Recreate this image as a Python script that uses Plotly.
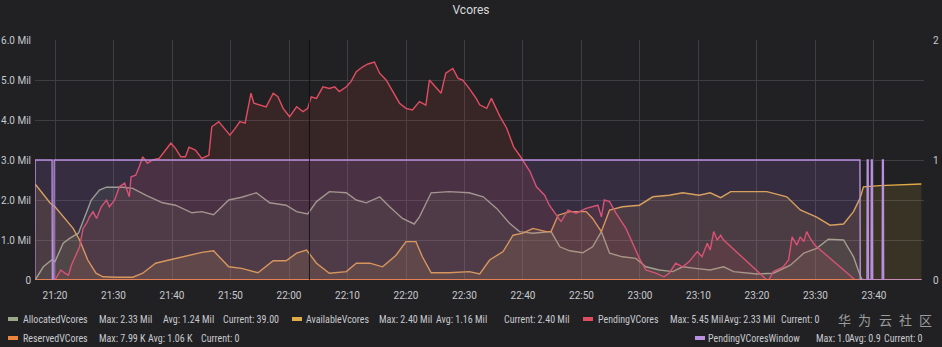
import plotly.graph_objects as go
import pandas as pd

# ---------------- data (minutes after 21:00, values in millions / window flag) -------------
alloc_min = [16.6, 18.0, 19.4, 20.0, 21.4, 22.5, 24.0, 25.1, 26.2, 27.6, 28.8, 31.6, 33.3, 35.5,
             38.4, 40.6, 43.4, 45.1, 47.1, 49.7, 51.9, 54.4, 56.7, 59.5, 61.3, 63.2, 64.7, 66.9,
             69.8, 71.5, 73.2, 75.5, 77.2, 79.4, 81.4, 82.3, 84.3, 87.4, 90.8, 93.2, 95.5, 97.7,
             99.4, 101.7, 104.8, 106.3, 108.0, 110.2, 111.9, 113.4, 114.8, 117.0, 119.3, 121.0,
             123.3, 125.6, 127.3, 129.5, 132.0, 134.3, 136.0, 140.0, 142.8, 145.7, 148.0, 150.2,
             152.2, 154.8, 156.5, 157.3, 157.9, 158.5, 168.1]
alloc_val = [0.0, 0.33, 0.5, 0.46, 0.92, 1.04, 1.17, 1.58, 2.0, 2.25, 2.32, 2.32, 2.29, 2.12,
             1.93, 1.87, 1.68, 1.71, 1.63, 2.0, 2.07, 2.18, 1.93, 1.87, 1.71, 1.65, 1.96, 2.21,
             2.18, 2.0, 1.93, 2.08, 1.83, 1.54, 1.4, 1.58, 2.18, 2.21, 2.18, 2.08, 1.79, 1.42,
             1.21, 1.17, 1.21, 0.83, 0.73, 0.68, 0.83, 1.21, 0.67, 0.58, 0.54, 0.33,
             0.25, 0.21, 0.33, 0.29, 0.25, 0.33, 0.21, 0.15, 0.17, 0.37, 0.67, 0.79,
             1.02, 1.0, 0.58, 0.25, 0.02, 0.0, 0.0]

avail_min = [16.6, 18.0, 19.2, 20.0, 22.3, 23.1, 24.2, 25.6, 27.0, 28.2, 30.5, 33.3, 35.0, 37.2,
             39.5, 42.9, 45.1, 47.1, 49.7, 51.9, 54.7, 57.3, 59.5, 61.3, 63.0, 64.7, 66.9, 69.8,
             71.5, 73.8, 76.0, 78.3, 80.0, 81.7, 82.8, 84.3, 87.4, 90.8, 92.6, 94.3, 96.6, 98.3,
             100.0, 101.7, 104.0, 104.8, 106.0, 108.0, 110.8, 111.9, 113.4, 114.8, 117.0, 119.9,
             122.2, 125.0, 127.3, 130.1, 132.0, 133.8, 135.5, 141.7, 145.1, 147.4, 150.2, 152.5,
             154.8, 156.5, 157.6, 158.2, 161.0, 168.1]
avail_val = [2.4, 2.15, 1.92, 1.83, 1.42, 1.29, 1.0, 0.5, 0.17, 0.08, 0.07, 0.07, 0.17, 0.42,
             0.5, 0.62, 0.69, 0.73, 0.33, 0.29, 0.18, 0.48, 0.48, 0.67, 0.75, 0.42, 0.17, 0.21,
             0.42, 0.42, 0.33, 0.62, 0.96, 0.96, 0.58, 0.18, 0.18, 0.21, 0.15, 0.5, 0.71, 1.12,
             1.17, 1.29, 1.21, 1.21, 1.62, 1.71, 1.71, 1.54, 1.21, 1.75, 1.83, 1.87,
             2.08, 2.12, 2.18, 2.12, 2.18, 2.06, 2.21, 2.21, 2.08, 1.75, 1.57, 1.37,
             1.4, 1.71, 2.04, 2.33, 2.36, 2.4]

pend_min = [16.6, 20.0, 20.3, 21.0, 21.7, 22.3, 22.8, 23.7, 24.2, 24.8, 25.4, 25.9, 26.5, 27.1,
            27.9, 28.8, 29.3, 30.2, 31.0, 31.9, 32.7, 33.0, 33.8, 34.4, 35.0, 35.8, 36.7, 37.8,
            38.9, 39.8, 40.6, 41.5, 42.3, 42.9, 44.0, 45.1, 46.3, 46.8, 48.0, 49.1, 49.9, 50.8,
            51.6, 52.5, 53.1, 53.5, 54.0, 55.0, 56.1, 57.3, 58.1, 59.0, 60.1, 61.3, 62.4, 63.2,
            63.8, 64.7, 65.8, 66.9, 67.8, 68.6, 69.8, 70.6, 71.5, 72.6, 73.5, 74.6, 75.5, 76.6,
            77.7, 78.9, 80.0, 81.1, 82.3, 83.4, 84.0, 85.1, 86.0, 86.8, 88.0, 88.9, 89.7, 90.8,
            92.0, 92.6, 93.8, 94.6, 96.1, 97.2, 98.4, 99.5, 101.2, 102.3, 103.7, 104.5, 105.7,
            106.5, 107.7, 109.1, 110.8, 111.9, 112.8, 113.4, 113.9, 114.8, 115.9, 117.6, 118.8,
            119.9, 121.0, 122.7, 124.1, 125.0, 126.1, 127.3, 128.4, 129.8, 130.6, 131.5, 132.0,
            132.6, 133.2, 133.8, 134.3, 141.7, 142.0, 142.8, 144.5, 145.4, 146.0, 146.8, 147.4,
            148.0, 148.5, 149.1, 149.9, 156.8, 168.1]
pend_val = [0.0, 0.0, 0.08, 0.25, 0.17, 0.12, 0.37, 0.67, 0.83, 1.29, 1.42, 1.58, 1.71, 1.54,
            1.83, 2.0, 1.83, 2.0, 2.33, 2.42, 2.08, 2.58, 2.62, 2.83, 3.08, 2.92, 3.0, 3.04,
            3.25, 3.42, 3.29, 3.08, 3.08, 3.32, 3.25, 3.04, 3.12, 3.83, 3.96, 3.75, 3.62, 3.79,
            3.96, 3.92, 4.42, 4.67, 4.42, 4.37, 4.33, 4.67, 4.58, 4.29, 4.08, 4.33, 4.21, 4.29,
            4.58, 4.54, 4.83, 4.79, 4.83, 4.71, 4.83, 4.96, 5.21, 5.33, 5.4, 5.45, 5.17, 5.0,
            4.71, 4.42, 4.29, 4.25, 4.46, 4.37, 5.0, 4.83, 4.67, 5.17, 5.29, 5.04, 5.0, 4.79,
            4.54, 4.38, 4.29, 4.54, 4.08, 3.8, 3.33, 3.1, 2.71, 2.33, 2.12, 1.87, 1.62,
            1.46, 1.75, 1.67, 1.79, 1.83, 1.87, 1.58, 2.0, 1.96, 1.67, 1.29, 0.92,
            0.54, 0.25, 0.17, 0.08, 0.17, 0.42, 0.33, 0.46, 0.71, 0.58, 0.92, 0.75,
            1.21, 1.0, 1.12, 1.0, 0.0, 0.0, 0.21, 0.33, 0.5, 1.08, 0.87, 1.08,
            0.96, 1.21, 1.04, 0.87, 0.0, 0.0]

resv_min = [16.6, 40.0, 60.0, 80.0, 100.0, 120.0, 168.1]
resv_val = [0.0, 0.004, 0.008, 0.002, 0.001, 0.0, 0.0]

win_min = [16.55, 16.6, 19.5, 19.55, 19.8, 19.85, 157.6, 157.65, 158.8, 158.85, 159.0, 159.05,
           159.5, 159.55, 159.7, 159.75, 161.4, 161.45, 161.6, 161.65, 168.1]
win_val = [0, 1, 1, 0, 0, 1, 1, 0, 0, 1, 1, 0,
           0, 1, 1, 0, 0, 1, 1, 0, 0]

y_tick_vals = [0, 1, 2, 3, 4, 5, 6]
y_tick_text = ["0", "1.0 Mil", "2.0 Mil", "3.0 Mil", "4.0 Mil", "5.0 Mil", "6.0 Mil"]
y2_tick_vals = [0, 1, 2]
y2_tick_text = ["0", "1", "2"]

legend_names = ["AllocatedVcores", "AvailableVcores", "PendingVCores", "ReservedVCores",
                "PendingVCoresWindow"]
legend_max = ["2.33 Mil", "2.40 Mil", "5.45 Mil", "7.99 K", "1.0"]
legend_avg = ["1.24 Mil", "1.16 Mil", "2.33 Mil", "1.06 K", "0.9"]
legend_cur = ["39.00", "2.40 Mil", "0", "0", "0"]
title_text = "Vcores"
watermark_chars = ["华", "为", "云", "社", "区"]
crosshair_min = 63.5

# ---------------- styling ----------------
BG = "#212124"
GRID = "#3d3d42"
TXT = "#c7c9cc"
FONT = "Roboto"
LEG_FONT = "Liberation Sans Narrow, Roboto Condensed, Roboto"
colors = ["#9aa78a", "#e0aa48", "#e04d62", "#ef843c", "#b98fe0"]
fills = ["rgba(126,178,109,0.10)", "rgba(234,184,57,0.12)", "rgba(226,77,66,0.12)",
         "rgba(239,132,60,0.10)", "rgba(168,110,215,0.16)"]

BASE = pd.Timestamp("2021-01-01 21:00:00")


def to_time(mins):
    return [BASE + pd.Timedelta(minutes=m) for m in mins]


W, H = 942, 347
ML, MR, MT, MB = 35, 18, 40, 67
PW, PH = W - ML - MR, H - MT - MB


def px(x):
    return (x - ML) / PW


def py(y):
    return (MT + PH - y) / PH


fig = go.Figure()
series = [(alloc_min, alloc_val, "y"), (avail_min, avail_val, "y"), (pend_min, pend_val, "y"),
          (resv_min, resv_val, "y"), (win_min, win_val, "y2")]
for i, (m, v, ax) in enumerate(series):
    fig.add_trace(go.Scatter(
        x=to_time(m), y=v, mode="lines", yaxis=ax, name=legend_names[i],
        line=dict(color=colors[i], width=2.2 if i == 3 else 1.4), fill="tozeroy",
        fillcolor=fills[i], hoverinfo="skip", showlegend=False,
        cliponaxis=(i != 3)))

# legend built from annotations (Grafana-style table legend)
legend_layout = [  # row y, marker x, name x, max x, avg x, current x
    (319, 8, 22, 98, 162, 222),
    (319, 292, 305, 378, 435, 503),
    (319, 583, 597, 669, 723, 780),
    (338, 8, 22, 98, 147, 200),
    (338, 695, 707, 815, 848, 883),
]
annotations = []
shapes = []
for i, (ry, mx, nx, maxx, avgx, curx) in enumerate(legend_layout):
    shapes.append(dict(type="rect", xref="paper", yref="paper",
                       x0=px(mx), x1=px(mx + 10), y0=py(ry + 2), y1=py(ry - 2),
                       fillcolor=colors[i], line=dict(width=0)))
    for xx, txt in [(nx, legend_names[i]), (maxx, "Max: " + legend_max[i]),
                    (avgx, "Avg: " + legend_avg[i]), (curx, "Current: " + legend_cur[i])]:
        annotations.append(dict(x=px(xx), y=py(ry), xref="paper", yref="paper",
                                xanchor="left", yanchor="middle", showarrow=False,
                                text=txt, font=dict(family=LEG_FONT, size=10, color=TXT),
                                borderpad=0))

for k, ch in enumerate(watermark_chars):
    annotations.append(dict(x=px(844 + 20.5 * k), y=py(319), xref="paper", yref="paper",
                            xanchor="center", yanchor="middle", showarrow=False, text=ch,
                            font=dict(family="Noto Sans CJK SC", size=13, color="#9c9c9c")))

shapes.append(dict(type="line", xref="x", yref="paper",
                   x0=to_time([crosshair_min])[0], x1=to_time([crosshair_min])[0],
                   y0=0, y1=1, line=dict(color="rgba(10,10,10,0.75)", width=1)))

fig.update_layout(
    width=W, height=H,
    margin=dict(l=ML, r=MR, t=MT, b=MB, autoexpand=False),
    paper_bgcolor=BG, plot_bgcolor=BG,
    title=dict(text=title_text, x=0.5, xref="container", y=1 - 10 / H, yref="container",
               xanchor="center", yanchor="middle",
               font=dict(family=FONT, size=12, color="#d8d9da")),
    xaxis=dict(type="date", range=to_time([16.58, 168.55]), tickformat="%H:%M",
               dtick=600000, tick0=to_time([20])[0], showgrid=True, gridcolor=GRID,
               gridwidth=1, zeroline=False, showline=False, ticks="", automargin=False,
               ticklabelstandoff=8,
               tickfont=dict(family=FONT, size=10, color=TXT)),
    yaxis=dict(range=[0, 6], tickvals=y_tick_vals, ticktext=y_tick_text, showgrid=True,
               gridcolor=GRID, zeroline=False, showline=False, ticks="", automargin=False,
               tickfont=dict(family=FONT, size=10, color=TXT), ticklabelstandoff=3),
    yaxis2=dict(range=[0, 2], tickvals=y2_tick_vals, ticktext=y2_tick_text, overlaying="y",
                side="right", showgrid=False, zeroline=False, showline=False, ticks="",
                automargin=False,
                tickfont=dict(family=FONT, size=10, color=TXT), ticklabelstandoff=8),
    annotations=annotations,
    shapes=shapes,
    showlegend=False,
)

fig.write_html("out.html")
